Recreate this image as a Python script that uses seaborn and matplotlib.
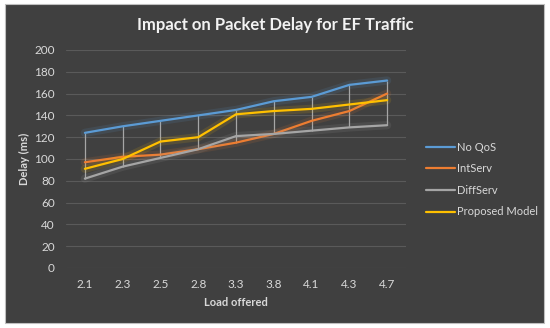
import matplotlib.pyplot as plt
import matplotlib.patheffects as pe
import pandas as pd
import seaborn as sns
from matplotlib.patches import Rectangle

# data
loads = ["2.1", "2.3", "2.5", "2.8", "3.3", "3.8", "4.1", "4.3", "4.7"]
no_qos = [124, 130, 135, 140, 145, 153, 157, 168, 172]
intserv = [97, 102, 104, 109, 115, 123, 135, 144, 160]
diffserv = [82, 93, 101, 109, 121, 123, 126, 129, 131]
proposed = [91, 100, 116, 120, 141, 144, 146, 150, 154]

series = ["No QoS", "IntServ", "DiffServ", "Proposed Model"]
colors = ["#5B9BD5", "#ED7D31", "#A5A5A5", "#FFC000"]

df = pd.DataFrame({"load": loads, "No QoS": no_qos, "IntServ": intserv,
                   "DiffServ": diffserv, "Proposed Model": proposed})
long = df.melt(id_vars="load", var_name="scheme", value_name="delay")

bg = "#404040"
txt = "#D9D9D9"

sns.set_style("dark")
plt.rcParams["font.family"] = ["Lato", "DejaVu Sans"]

fig = plt.figure(figsize=(5.5, 3.28), dpi=100)
fig.patch.set_facecolor("white")
fig.patches.append(Rectangle((5 / 550, 5 / 328), 539 / 550, 319 / 328,
                             transform=fig.transFigure, facecolor=bg,
                             edgecolor="#BFBFBF", linewidth=0.8, zorder=-1))

ax = fig.add_axes([66 / 550, 1 - 268 / 328, 340 / 550, 218 / 328])
ax.set_facecolor(bg)
ax.set_zorder(1)

# high-low lines
ax.vlines(df["load"], df[series].min(axis=1), df[series].max(axis=1),
          color="#A6A6A6", linewidth=0.9, zorder=2)

sns.lineplot(data=long, x="load", y="delay", hue="scheme", hue_order=series,
             palette=colors, linewidth=1.6, ax=ax, sort=False, zorder=3)

for line, c in zip(ax.get_lines(), colors):
    line.set_path_effects([pe.Stroke(linewidth=6, foreground=c, alpha=0.12),
                           pe.Normal()])

ax.set_ylim(0, 200)
ax.set_yticks(range(0, 201, 20))
ax.set_xlim(-0.5, len(loads) - 0.5)
ax.grid(axis="y", color="#5A5A5A", linewidth=0.8)
ax.grid(axis="x", visible=False)
for s in ax.spines.values():
    s.set_visible(False)
ax.tick_params(colors=txt, labelsize=8.5, length=0, pad=8)

ax.set_xlabel("Load offered", color=txt, fontsize=8, fontweight="bold", labelpad=5)
ax.set_ylabel("Delay (ms)", color=txt, fontsize=8, fontweight="bold", labelpad=3)
fig.text(275 / 550, 1 - 25 / 328, "Impact on Packet Delay for EF Traffic",
         color="#F2F2F2", fontsize=12, fontweight="bold", ha="center", va="center")

leg = ax.legend(loc="upper left", bbox_to_anchor=(1.03, 0.625), frameon=False,
                fontsize=8, handlelength=2.6, labelspacing=0.95,
                handletextpad=0.2)
for t in leg.get_texts():
    t.set_color(txt)
for h in leg.get_lines():
    h.set_path_effects([])
    h.set_linewidth(1.6)

fig.savefig("out.png", dpi=100, facecolor=fig.get_facecolor())
